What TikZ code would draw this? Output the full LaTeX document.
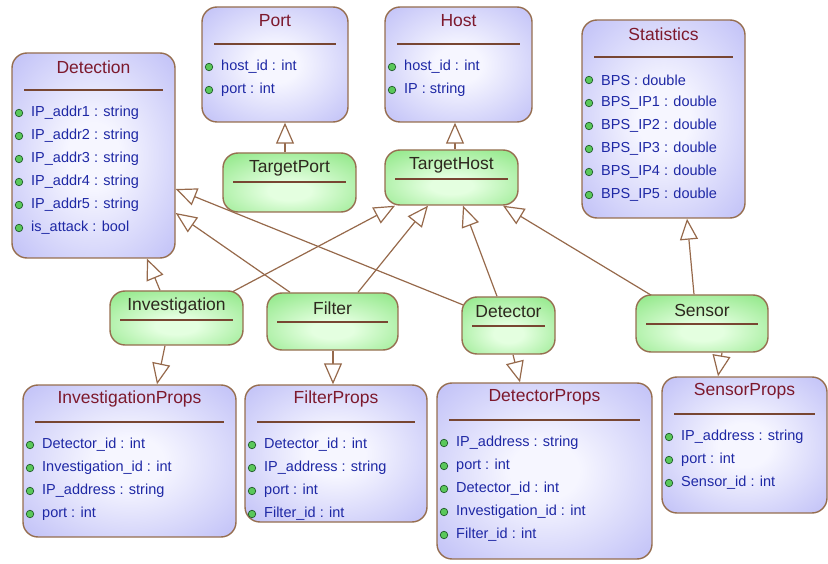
\documentclass[tikz,border=0pt]{standalone}
\usepackage{fontspec}
\setmainfont{Liberation Sans}
\usetikzlibrary{arrows.meta,backgrounds}

% palette
\definecolor{edge}{RGB}{150,110,80}
\definecolor{sepcol}{RGB}{120,70,50}
\definecolor{lavout}{RGB}{172,172,244}
\definecolor{lavin}{RGB}{246,246,255}
\definecolor{grnout}{RGB}{120,225,110}
\definecolor{grnin}{RGB}{228,255,224}
\definecolor{ttlred}{RGB}{125,25,45}
\definecolor{ttldark}{RGB}{45,40,30}
\definecolor{attrblue}{RGB}{30,40,165}
\definecolor{dotgreen}{RGB}{90,200,90}
\definecolor{dotedge}{RGB}{30,90,40}
\definecolor{linecol}{RGB}{150,105,75}

% soft central glow for the class boxes
\pgfdeclareradialshading{lavglow}{\pgfpoint{0bp}{0bp}}{color(0bp)=(lavin); color(8bp)=(lavin); color(46bp)=(lavout); color(80bp)=(lavout)}
\pgfdeclareradialshading{grnglow}{\pgfpoint{0bp}{-8bp}}{color(0bp)=(grnin); color(8bp)=(grnin); color(46bp)=(grnout); color(80bp)=(grnout)}

\tikzset{
  lavbox/.style={draw=edge, line width=1.4pt, rounded corners=15pt, shade, shading=lavglow, inner sep=0pt},
  grnbox/.style={draw=edge, line width=1.4pt, rounded corners=15pt, shade, shading=grnglow, inner sep=0pt},
  lavtitle/.style={text=ttlred, inner sep=0pt, font=\fontsize{17.5}{20}\selectfont},
  grntitle/.style={text=ttldark, inner sep=0pt, font=\fontsize{17.5}{20}\selectfont},
  sepline/.style={draw=sepcol, line width=1.3pt},
  attrdot/.style={circle, fill=dotgreen, draw=dotedge, line width=0.7pt, minimum size=7.5pt, inner sep=0pt},
  attrtext/.style={text=attrblue, anchor=west, inner sep=0pt, font=\fontsize{14.5}{17}\selectfont},
  gen/.style={draw=linecol, line width=1.2pt,
    -{Triangle[open, length=21pt, width=18pt, fill=white, line width=1.2pt]}},
}

% class box: name, left, top, right, bottom, title, attribute list
\newcommand{\umlclass}[7]{%
  \node[lavbox, minimum width={(#4-#2)*1pt}, minimum height={(#5-#3)*1pt}] (#1) at ({(#2+#4)/2},{(#3+#5)/2}) {};
  \node[lavtitle] (#1-title) at ({(#2+#4)/2},{#3+14}) {#6};
  \draw[sepline] ({#2+12},{#3+37}) -- ({#4-12},{#3+37});
  \foreach \a [count=\i] in {#7} {
    \node[attrdot] (#1-dot\i) at ({#2+7},{#3+37+23*\i}) {};
    \node[attrtext] (#1-attr\i) at ({#2+19},{#3+37+23*\i}) {\a};
  }%
}

% empty class box: name, left, top, right, bottom, title
\newcommand{\greenclass}[6]{%
  \node[grnbox, minimum width={(#4-#2)*1pt}, minimum height={(#5-#3)*1pt}] (#1) at ({(#2+#4)/2},{(#3+#5)/2}) {};
  \node[grntitle] (#1-title) at ({(#2+#4)/2},{#3+15}) {#6};
  \draw[sepline] ({#2+10},{#3+29}) -- ({#4-10},{#3+29});
}

\begin{document}
\begin{tikzpicture}[x=1pt, y=-1pt]
\useasboundingbox (0,0) rectangle (828,564);

% classes with attributes
\umlclass{detection}{12}{53}{175}{258}{Detection}{IP\_addr1 : string, IP\_addr2 : string, IP\_addr3 : string, IP\_addr4 : string, IP\_addr5 : string, is\_attack : bool}
\umlclass{port}{202}{7}{348}{122}{Port}{host\_id : int, port : int}
\umlclass{host}{385}{7}{532}{122}{Host}{host\_id : int, IP : string}
\umlclass{stats}{582}{20}{745}{218}{Statistics}{BPS : double, BPS\_IP1 : double, BPS\_IP2 : double, BPS\_IP3 : double, BPS\_IP4 : double, BPS\_IP5 : double}
\umlclass{invprops}{23}{385}{236}{537}{InvestigationProps}{Detector\_id : int, Investigation\_id : int, IP\_address : string, port : int}
\umlclass{filterprops}{245}{385}{427}{522}{FilterProps}{Detector\_id : int, IP\_address : string, port : int, Filter\_id : int}
\umlclass{detprops}{437}{383}{652}{559}{DetectorProps}{IP\_address : string, port : int, Detector\_id : int, Investigation\_id : int, Filter\_id : int}
\umlclass{sensprops}{662}{377}{827}{513}{SensorProps}{IP\_address : string, port : int, Sensor\_id : int}

% classes without attributes
\greenclass{targetport}{223}{153}{356}{212}{TargetPort}
\greenclass{targethost}{385}{150}{518}{205}{TargetHost}
\greenclass{inv}{110}{291}{243}{345}{Investigation}
\greenclass{filter}{267}{293}{398}{350}{Filter}
\greenclass{detector}{462}{297}{555}{354}{Detector}
\greenclass{sensor}{636}{295}{768}{352}{Sensor}

% generalisations, kept behind the boxes
\begin{scope}[on background layer]
  \draw[gen] ([xshift=-4.5pt]targetport.north) -- ([xshift=10pt]port.south);
  \draw[gen] ([xshift=3.5pt]targethost.north) -- ([xshift=-3.5pt]host.south);
  \draw[gen] ([xshift=-16.5pt]inv.north) -- ([xshift=53.5pt]detection.south);
  \draw[gen] ([xshift=55pt,yshift=-2pt]inv.north) -- ([xshift=-56.5pt]targethost.south);
  \draw[gen] ([xshift=-42.5pt]filter.north) -- ([yshift=-57.5pt]detection.east);
  \draw[gen] ([xshift=25.5pt]filter.north) -- ([xshift=-23.5pt]targethost.south);
  \draw[gen] ([xshift=2pt,yshift=20.5pt]detector.west) -- ([yshift=-33.5pt]detection.east);
  \draw[gen] ([xshift=-11.5pt]detector.north) -- ([xshift=11.5pt]targethost.south);
  \draw[gen] ([xshift=-49pt,yshift=-2pt]sensor.north) -- ([xshift=51.5pt]targethost.south);
  \draw[gen] ([xshift=-8pt]sensor.north) -- ([xshift=23.5pt]stats.south);
  \draw[gen] ([xshift=-11.5pt]inv.south) -- ([xshift=27.5pt]invprops.north);
  \draw[gen] ([xshift=0.5pt]filter.south) -- ([xshift=-3pt]filterprops.north);
  \draw[gen] ([xshift=4.5pt]detector.south) -- ([xshift=-24.5pt]detprops.north);
  \draw[gen] ([xshift=20pt]sensor.south) -- ([xshift=-26.5pt]sensprops.north);
\end{scope}
\end{tikzpicture}
\end{document}
